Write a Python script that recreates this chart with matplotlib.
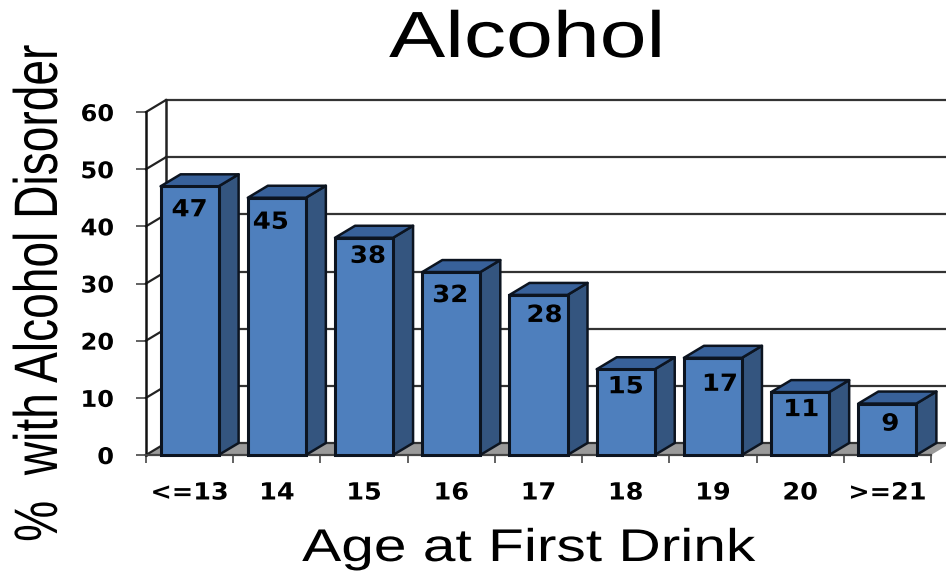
import matplotlib
matplotlib.use('Agg')
import matplotlib.pyplot as plt
from matplotlib.patches import Polygon, Rectangle
from matplotlib.patheffects import AbstractPathEffect
from matplotlib.transforms import Affine2D

ages = ['<=13', '14', '15', '16', '17', '18', '19', '20', '>=21']
percent = [47, 45, 38, 32, 28, 15, 17, 11, 9]
yticks = [0, 10, 20, 30, 40, 50, 60]

W, H = 946, 571


# the source image is stretched sideways, so text needs stretching too
class Stretch(AbstractPathEffect):
    def __init__(self, sx, cx, sy=1.0, cy=0.0):
        super().__init__()
        self.sx, self.sy, self.cx, self.cy = sx, sy, cx, cy

    def draw_path(self, renderer, gc, tpath, affine, rgbFace=None):
        t = Affine2D().translate(-self.cx, -self.cy).scale(self.sx, self.sy).translate(self.cx, self.cy)
        renderer.draw_path(gc, tpath, affine + t, rgbFace)


fig = plt.figure(figsize=(W / 100, H / 100), dpi=100)
ax = fig.add_axes([146 / W, (H - 455) / H, 785 / W, 343 / H])
ax.set_xlim(0, 9)
ax.set_ylim(0, 60)

# depth of the fake 3d box, in data units
dx = 20 / 87.2
dy = 12 / 5.717
bar_w = 0.665

# floor
ax.add_patch(Polygon([(0, 0), (dx, dy), (9 + dx, dy), (9, 0)], fc='#9a9a9a', ec='none', clip_on=False, zorder=1))

# back wall and left wall lines
for v in yticks:
    ax.plot([dx, 9.2], [v + dy, v + dy], color='#333333', lw=1.6, clip_on=False, zorder=2)
    ax.plot([0, dx], [v, v + dy], color='#222222', lw=1.6, clip_on=False, zorder=2)
ax.plot([dx, dx], [dy, 60 + dy], color='#222222', lw=1.8, clip_on=False, zorder=2)

# hand placed like the original labels, in pixels
label_shift = [0, -6, 4, -1, 6, 0, 7, 1, 3]
label_drop = [23, 24, 18, 23, 20, 17, 26, 17, 20]

for i, v in enumerate(percent):
    x0 = i + 0.5 - bar_w / 2
    x1 = x0 + bar_w
    ax.add_patch(Polygon([(x1, 0), (x1 + dx, dy), (x1 + dx, v + dy), (x1, v)],
                         fc='#34557f', ec='#0c1420', lw=1.8, clip_on=False, zorder=3, joinstyle='round'))
    ax.add_patch(Polygon([(x0, v), (x0 + dx, v + dy), (x1 + dx, v + dy), (x1, v)],
                         fc='#38619a', ec='#0c1420', lw=1.8, clip_on=False, zorder=3, joinstyle='round'))
    ax.add_patch(Rectangle((x0, 0), bar_w, v, fc='#4e7fbd', ec='#0c1420', lw=2.2, clip_on=False, zorder=4))
    px, py = ax.transData.transform((i + 0.5, v))
    px += label_shift[i]
    py -= label_drop[i]
    t = fig.text(px / W, py / H, str(v), ha='center', va='center', fontsize=17, fontweight='bold',
                 family='DejaVu Sans', color='black', zorder=5)
    t.set_path_effects([Stretch(1.1, px)])

for s in ['top', 'right']:
    ax.spines[s].set_visible(False)
ax.spines['left'].set_linewidth(1.8)
ax.spines['left'].set_color('#111111')
ax.spines['bottom'].set_linewidth(1.6)
ax.spines['bottom'].set_color('#444444')
ax.patch.set_alpha(0)

ax.set_yticks(yticks)
ax.set_xticks(range(10))
ax.set_xticklabels([])
ax.tick_params(axis='y', length=7.2, width=1.3, color='#555555', labelsize=16.5, pad=15.8)
ax.tick_params(axis='x', length=5.8, width=1.3, color='#555555')
for t in ax.get_yticklabels():
    t.set_fontweight('bold')
    t.set_color('black')
    t.set_path_effects([Stretch(1.05, 114)])

for i, a in enumerate(ages):
    px = ax.transData.transform((i + 0.5, 0))[0]
    t = fig.text(px / W, 1 - 492.5 / H, a, ha='center', va='center', fontsize=17, fontweight='bold', color='black')
    t.set_path_effects([Stretch(1.08, px)])

t = fig.text(527 / W, 1 - 40 / H, 'Alcohol', ha='center', va='center', fontsize=47, family='Liberation Sans', color='black')
t.set_path_effects([Stretch(1.29, 527)])
t = fig.text(529 / W, 1 - 549 / H, 'Age at First Drink', ha='center', va='center', fontsize=33, family='Liberation Sans', color='black')
t.set_path_effects([Stretch(1.28, 529)])
t = fig.text(41 / W, 1 - 293 / H, '%  with Alcohol Disorder', rotation=90, ha='center', va='center', fontsize=33.2,
             family='Liberation Sans', color='black')
t.set_path_effects([Stretch(1.33, 41)])

fig.savefig('out.png', dpi=100)
